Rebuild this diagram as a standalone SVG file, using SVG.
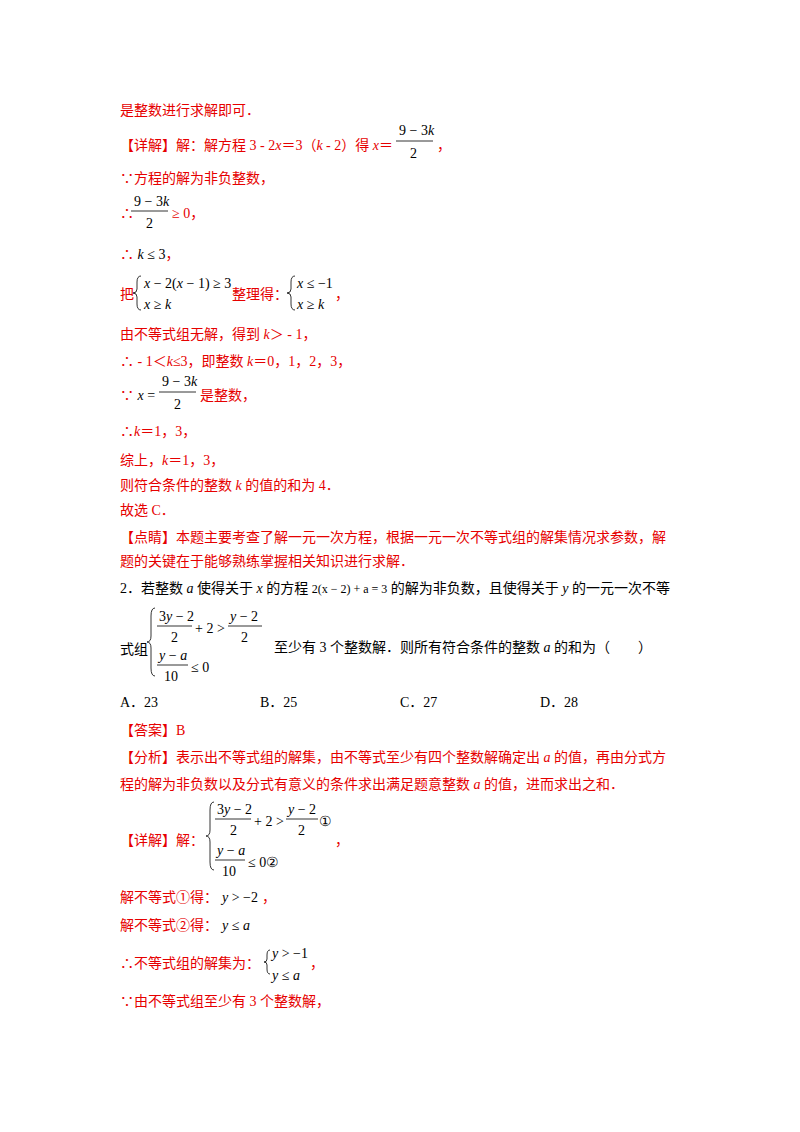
<svg xmlns="http://www.w3.org/2000/svg" width="800" height="1132" viewBox="0 0 800 1132">
<style>
.r{fill:#e60000;font-family:"Liberation Serif","Noto Sans CJK SC",serif;font-size:14px}
.b{fill:#000;font-family:"Liberation Serif","Noto Sans CJK SC",serif;font-size:14px}
.m{fill:#000;font-family:"Liberation Serif",serif;font-size:14px}
.i{font-style:italic}
.l{stroke:#000;stroke-width:0.8;fill:none}
</style>
<rect width="800" height="1132" fill="#fff"/>
<text class="r" x="120" y="115">是整数进行求解即可．</text>
<text class="r" x="120" y="150">【详解】解：解方程 3 - 2<tspan class="i">x</tspan>＝3（<tspan class="i">k</tspan> - 2）得 <tspan class="i">x</tspan>＝</text>
<text class="m" x="399" y="135">9 − 3<tspan class="i">k</tspan></text><line class="l" x1="396" y1="141" x2="433" y2="141"/><text class="m" x="410" y="158">2</text>
<text class="r" x="437" y="150">，</text>
<text class="r" x="120" y="183">∵方程的解为非负整数，</text>
<text class="r" x="120" y="218">∴</text>
<text class="m" x="134" y="206">9 − 3<tspan class="i">k</tspan></text><line class="l" x1="131" y1="211" x2="168" y2="211"/><text class="m" x="146" y="228">2</text>
<text class="r" x="172" y="218">≥ 0，</text>
<text class="r" x="120" y="259">∴ <tspan class="m i">k</tspan> <tspan fill="#000">≤ 3</tspan>，</text>
<text class="r" x="120" y="299">把</text>
<path class="l" d="M141 276 q-4 0 -4 6 v7 q0 4 -4 4 q4 0 4 4 v7 q0 6 4 6"/>
<text class="m" x="144" y="288"><tspan class="i">x</tspan> − 2(<tspan class="i">x</tspan> − 1) ≥ 3</text>
<text class="m i" x="144" y="309">x <tspan font-style="normal">≥</tspan> k</text>
<text class="r" x="232" y="299">整理得：</text>
<path class="l" d="M295 276 q-4 0 -4 6 v7 q0 4 -4 4 q4 0 4 4 v7 q0 6 4 6"/>
<text class="m" x="297" y="288"><tspan class="i">x</tspan> ≤ −1</text>
<text class="m i" x="297" y="309">x <tspan font-style="normal">≥</tspan> k</text>
<text class="r" x="335" y="299">，</text>
<text class="r" x="120" y="339">由不等式组无解，得到 <tspan class="i">k</tspan>＞ - 1，</text>
<text class="r" x="120" y="366">∴ - 1＜<tspan class="i">k</tspan>≤3，即整数 <tspan class="i">k</tspan>＝0，1，2，3，</text>
<text class="r" x="120" y="400">∵ <tspan fill="#000" class="i">x</tspan> <tspan fill="#000">=</tspan></text>
<text class="m" x="162" y="386">9 − 3<tspan class="i">k</tspan></text><line class="l" x1="159" y1="392" x2="196" y2="392"/><text class="m" x="174" y="409">2</text>
<text class="r" x="200" y="400">是整数，</text>
<text class="r" x="120" y="436">∴<tspan class="i">k</tspan>＝1，3，</text>
<text class="r" x="120" y="465">综上，<tspan class="i">k</tspan>＝1，3，</text>
<text class="r" x="120" y="490">则符合条件的整数 <tspan class="i">k</tspan> 的值的和为 4．</text>
<text class="r" x="120" y="515">故选 C．</text>
<text class="r" x="120" y="542">【点睛】本题主要考查了解一元一次方程，根据一元一次不等式组的解集情况求参数，解</text>
<text class="r" x="120" y="566">题的关键在于能够熟练掌握相关知识进行求解．</text>
<text class="b" x="120" y="593">2．若整数 <tspan class="i">a</tspan> 使得关于 <tspan class="i">x</tspan> 的方程 <tspan font-size="12">2(x − 2) + a = 3</tspan> 的解为非负数，且使得关于 <tspan class="i">y</tspan> 的一元一次不等</text>
<text class="b" x="120" y="654">式组</text>
<path class="l" d="M155 608 q-4 0 -4 8 v20 q0 6 -4 6 q4 0 4 6 v20 q0 8 4 8"/>
<text class="m" x="159" y="621">3<tspan class="i">y</tspan> − 2</text><line class="l" x1="157" y1="626" x2="192" y2="626"/><text class="m" x="171" y="642">2</text>
<text class="m" x="195" y="633">+ 2 &gt;</text>
<text class="m" x="230" y="621"><tspan class="i">y</tspan> − 2</text><line class="l" x1="228" y1="626" x2="262" y2="626"/><text class="m" x="241" y="642">2</text>
<text class="m" x="159" y="660"><tspan class="i">y</tspan> − <tspan class="i">a</tspan></text><line class="l" x1="157" y1="665" x2="188" y2="665"/><text class="m" x="164" y="681">10</text>
<text class="m" x="191" y="672">≤ 0</text>
<text class="b" x="274" y="652">至少有 3 个整数解．则所有符合条件的整数 <tspan class="i">a</tspan> 的和为（　　）</text>
<text class="b" x="120" y="707">A．23</text>
<text class="b" x="260" y="707">B．25</text>
<text class="b" x="400" y="707">C．27</text>
<text class="b" x="540" y="707">D．28</text>
<text class="r" x="120" y="735">【答案】B</text>
<text class="r" x="120" y="762">【分析】表示出不等式组的解集，由不等式至少有四个整数解确定出 <tspan class="i">a</tspan> 的值，再由分式方</text>
<text class="r" x="120" y="789">程的解为非负数以及分式有意义的条件求出满足题意整数 <tspan class="i">a</tspan> 的值，进而求出之和．</text>
<text class="r" x="120" y="845">【详解】解：</text>
<path class="l" d="M214 802 q-4 0 -4 8 v20 q0 6 -4 6 q4 0 4 6 v20 q0 8 4 8"/>
<text class="m" x="217" y="814">3<tspan class="i">y</tspan> − 2</text><line class="l" x1="215" y1="819" x2="251" y2="819"/><text class="m" x="230" y="835">2</text>
<text class="m" x="254" y="826">+ 2 &gt;</text>
<text class="m" x="288" y="814"><tspan class="i">y</tspan> − 2</text><line class="l" x1="286" y1="819" x2="318" y2="819"/><text class="m" x="298" y="835">2</text>
<text class="m" x="319" y="826">①</text>
<text class="m" x="217" y="855"><tspan class="i">y</tspan> − <tspan class="i">a</tspan></text><line class="l" x1="215" y1="860" x2="245" y2="860"/><text class="m" x="222" y="876">10</text>
<text class="m" x="248" y="867">≤ 0②</text>
<text class="r" x="335" y="845">，</text>
<text class="r" x="120" y="902">解不等式①得：</text><text class="m" x="222" y="902"><tspan class="i">y</tspan> &gt; −2</text><text class="r" x="262" y="902">，</text>
<text class="r" x="120" y="930">解不等式②得：</text><text class="m i" x="222" y="930">y <tspan font-style="normal">≤</tspan> a</text>
<text class="r" x="120" y="968">∴不等式组的解集为：</text>
<path class="l" d="M270 950 q-3 0 -3 5 v4 q0 3 -3 3 q3 0 3 3 v4 q0 5 3 5"/>
<text class="m" x="272" y="958"><tspan class="i">y</tspan> &gt; −1</text>
<text class="m i" x="272" y="980">y <tspan font-style="normal">≤</tspan> a</text>
<text class="r" x="310" y="968">，</text>
<text class="r" x="120" y="1006">∵由不等式组至少有 3 个整数解，</text>
</svg>
